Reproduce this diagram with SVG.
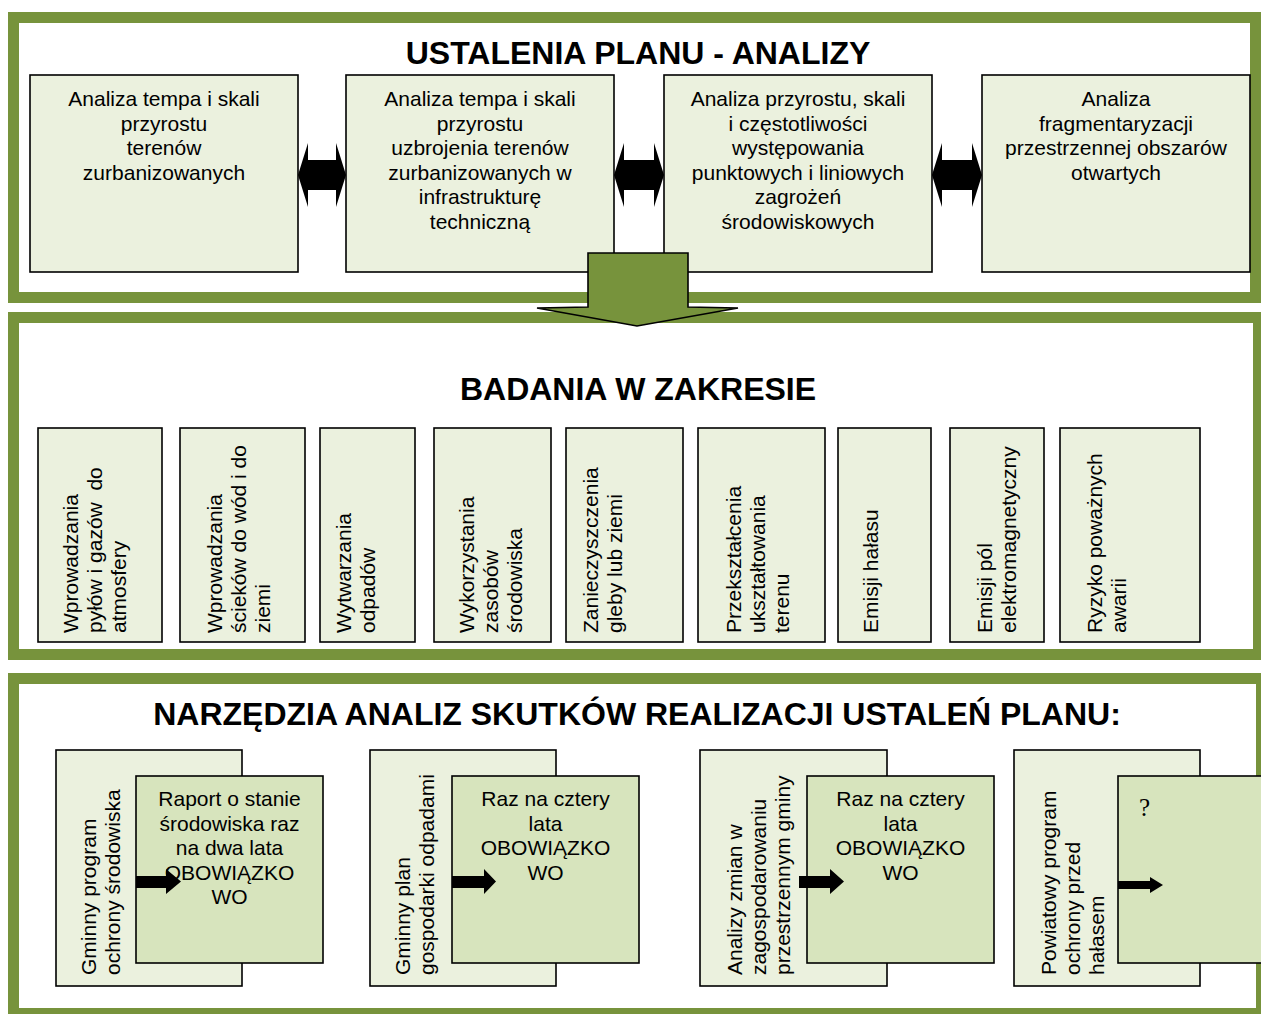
<svg xmlns="http://www.w3.org/2000/svg" width="1261" height="1014" viewBox="0 0 1261 1014">
<style>
.frame{fill:none;stroke:#77933C;stroke-width:11}
.box{fill:#EBF1DE;stroke:#000;stroke-width:1.6}
.box2{fill:#D7E4BD;stroke:#000;stroke-width:1.6}
.t{font-family:"Liberation Sans",Arial,sans-serif;font-size:21px;fill:#000}
.c{text-anchor:middle}
.title{font-family:"Liberation Sans",Arial,sans-serif;font-size:32px;font-weight:bold;fill:#000;text-anchor:middle}
.arr{fill:#000;stroke:none}
.q{font-family:"Liberation Serif","Times New Roman",serif;font-size:25px;fill:#000}
</style>
<rect x="0" y="0" width="1261" height="1014" fill="#fff"/>
<g id="frames">
<rect id="frame-top" class="frame" x="13.5" y="17.5" width="1242" height="280"/>
<rect id="frame-mid" class="frame" x="13.5" y="317.5" width="1245" height="337"/>
<rect id="frame-bot" class="frame" x="13.5" y="678.5" width="1248" height="335"/>
</g>
<text class="title" x="638" y="64">USTALENIA PLANU - ANALIZY</text>
<text class="title" x="638" y="400">BADANIA W ZAKRESIE</text>
<text class="title" x="637" y="725">NARZĘDZIA ANALIZ SKUTKÓW REALIZACJI USTALEŃ PLANU:</text>

<g id="a1">
<rect class="box" x="30" y="75" width="268" height="197"/>
<text class="t c" x="164" y="106">Analiza tempa i skali</text>
<text class="t c" x="164" y="130.5">przyrostu</text>
<text class="t c" x="164" y="155">terenów</text>
<text class="t c" x="164" y="179.5">zurbanizowanych</text>
</g>
<g id="a2">
<rect class="box" x="346" y="75" width="268" height="197"/>
<text class="t c" x="480" y="106">Analiza tempa i skali</text>
<text class="t c" x="480" y="130.5">przyrostu</text>
<text class="t c" x="480" y="155">uzbrojenia terenów</text>
<text class="t c" x="480" y="179.5">zurbanizowanych w</text>
<text class="t c" x="480" y="204">infrastrukturę</text>
<text class="t c" x="480" y="228.5">techniczną</text>
</g>
<g id="a3">
<rect class="box" x="664" y="75" width="268" height="197"/>
<text class="t c" x="798" y="106">Analiza przyrostu, skali</text>
<text class="t c" x="798" y="130.5">i częstotliwości</text>
<text class="t c" x="798" y="155">występowania</text>
<text class="t c" x="798" y="179.5">punktowych i liniowych</text>
<text class="t c" x="798" y="204">zagrożeń</text>
<text class="t c" x="798" y="228.5">środowiskowych</text>
</g>
<g id="a4">
<rect class="box" x="982" y="75" width="268" height="197"/>
<text class="t c" x="1116" y="106">Analiza</text>
<text class="t c" x="1116" y="130.5">fragmentaryzacji</text>
<text class="t c" x="1116" y="155">przestrzennej obszarów</text>
<text class="t c" x="1116" y="179.5">otwartych</text>
</g>

<g id="b1">
<rect class="box" x="38" y="428" width="124" height="214"/>
<text class="t" transform="translate(78,633) rotate(-90)">Wprowadzania</text>
<text class="t" transform="translate(102,633) rotate(-90)">pyłów i gazów&#160; do</text>
<text class="t" transform="translate(126,633) rotate(-90)">atmosfery</text>
</g>
<g id="b2">
<rect class="box" x="180" y="428" width="125" height="214"/>
<text class="t" transform="translate(222,633) rotate(-90)">Wprowadzania</text>
<text class="t" transform="translate(246,633) rotate(-90)">ścieków do wód i do</text>
<text class="t" transform="translate(270,633) rotate(-90)">ziemi</text>
</g>
<g id="b3">
<rect class="box" x="320" y="428" width="95" height="214"/>
<text class="t" transform="translate(351,633) rotate(-90)">Wytwarzania</text>
<text class="t" transform="translate(375,633) rotate(-90)">odpadów</text>
</g>
<g id="b4">
<rect class="box" x="434" y="428" width="117" height="214"/>
<text class="t" transform="translate(474,633) rotate(-90)">Wykorzystania</text>
<text class="t" transform="translate(498,633) rotate(-90)">zasobów</text>
<text class="t" transform="translate(522,633) rotate(-90)">środowiska</text>
</g>
<g id="b5">
<rect class="box" x="566" y="428" width="117" height="214"/>
<text class="t" transform="translate(598,633) rotate(-90)">Zanieczyszczenia</text>
<text class="t" transform="translate(622,633) rotate(-90)">gleby lub ziemi</text>
</g>
<g id="b6">
<rect class="box" x="698" y="428" width="127" height="214"/>
<text class="t" transform="translate(741,633) rotate(-90)">Przekształcenia</text>
<text class="t" transform="translate(765,633) rotate(-90)">ukształtowania</text>
<text class="t" transform="translate(789,633) rotate(-90)">terenu</text>
</g>
<g id="b7">
<rect class="box" x="838" y="428" width="93" height="214"/>
<text class="t" transform="translate(878,633) rotate(-90)">Emisji hałasu</text>
</g>
<g id="b8">
<rect class="box" x="950" y="428" width="94" height="214"/>
<text class="t" transform="translate(992,633) rotate(-90)">Emisji pól</text>
<text class="t" transform="translate(1016,633) rotate(-90)">elektromagnetyczny</text>
</g>
<g id="b9">
<rect class="box" x="1060" y="428" width="140" height="214"/>
<text class="t" transform="translate(1102,633) rotate(-90)">Ryzyko poważnych</text>
<text class="t" transform="translate(1126,633) rotate(-90)">awarii</text>
</g>

<g id="c1">
<rect class="box" x="56" y="750" width="186" height="236"/>
<text class="t" transform="translate(96,975) rotate(-90)">Gminny program</text>
<text class="t" transform="translate(120,975) rotate(-90)">ochrony środowiska</text>
</g>
<g id="c1r">
<rect class="box2" x="136" y="776" width="187" height="187"/>
<text class="t c" x="229.5" y="806">Raport o stanie</text>
<text class="t c" x="229.5" y="830.5">środowiska raz</text>
<text class="t c" x="229.5" y="855">na dwa lata</text>
<text class="t c" x="229.5" y="879.5">OBOWIĄZKO</text>
<text class="t c" x="229.5" y="904">WO</text>
</g>
<g id="c2">
<rect class="box" x="370" y="750" width="186" height="236"/>
<text class="t" transform="translate(410,975) rotate(-90)">Gminny plan</text>
<text class="t" transform="translate(434,975) rotate(-90)">gospodarki odpadami</text>
</g>
<g id="c2r">
<rect class="box2" x="452" y="776" width="187" height="187"/>
<text class="t c" x="545.5" y="806">Raz na cztery</text>
<text class="t c" x="545.5" y="830.5">lata</text>
<text class="t c" x="545.5" y="855">OBOWIĄZKO</text>
<text class="t c" x="545.5" y="879.5">WO</text>
</g>
<g id="c3">
<rect class="box" x="700" y="750" width="187" height="236"/>
<text class="t" transform="translate(742,975) rotate(-90)">Analizy zmian w</text>
<text class="t" transform="translate(766,975) rotate(-90)">zagospodarowaniu</text>
<text class="t" transform="translate(790,975) rotate(-90)">przestrzennym gminy</text>
</g>
<g id="c3r">
<rect class="box2" x="807" y="776" width="187" height="187"/>
<text class="t c" x="900.5" y="806">Raz na cztery</text>
<text class="t c" x="900.5" y="830.5">lata</text>
<text class="t c" x="900.5" y="855">OBOWIĄZKO</text>
<text class="t c" x="900.5" y="879.5">WO</text>
</g>
<g id="c4">
<rect class="box" x="1014" y="750" width="186" height="236"/>
<text class="t" transform="translate(1056,975) rotate(-90)">Powiatowy program</text>
<text class="t" transform="translate(1080,975) rotate(-90)">ochrony przed</text>
<text class="t" transform="translate(1104,975) rotate(-90)">hałasem</text>
</g>
<g id="c4r">
<rect class="box2" x="1118" y="776" width="160" height="187"/>
<text class="q" x="1139" y="816">?</text>
</g>

<g id="connectors">
<path class="arr" d="M298,175 L308,143 L308,160 L336,160 L336,143 L346,175 L336,207 L336,190 L308,190 L308,207 Z"/>
<path class="arr" d="M614,175 L624,143 L624,160 L654,160 L654,143 L664,175 L654,207 L654,190 L624,190 L624,207 Z"/>
<path class="arr" d="M932,175 L942,143 L942,160 L972,160 L972,143 L982,175 L972,207 L972,190 L942,190 L942,207 Z"/>
<path d="M588,253 L688,253 L688,307 L738,308 L637,326 L537,308 L588,307 Z" fill="#77933C" stroke="#000" stroke-width="1.6" stroke-linejoin="miter"/>
<path class="arr" d="M136,876 L166,876 L166,869 L181,881.5 L166,894 L166,888 L136,888 Z"/>
<path class="arr" d="M452,876 L484,876 L484,869 L496,881.5 L484,894 L484,888 L452,888 Z"/>
<path class="arr" d="M799,876 L830,876 L830,869 L844,881.5 L830,894 L830,888 L799,888 Z"/>
<path class="arr" d="M1118,881 L1150,881 L1150,877 L1163,885 L1150,893 L1150,889 L1118,889 Z"/>
</g>
</svg>
